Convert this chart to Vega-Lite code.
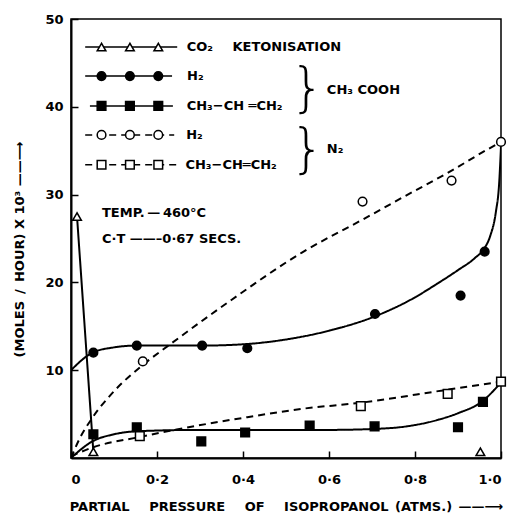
{
  "$schema": "https://vega.github.io/schema/vega-lite/v6.json",
  "width": 430,
  "height": 439,
  "autosize": {"type": "none"},
  "padding": {"left": 71, "top": 19, "right": 9, "bottom": 68},
  "background": "white",
  "config": {
    "font": "DejaVu Sans",
    "view": {"stroke": "black", "strokeWidth": 1.5},
    "axis": {"grid": false, "domainColor": "black", "domainWidth": 2, "tickColor": "black", "tickWidth": 1.5, "labelColor": "black", "titleColor": "black", "labelFont": "DejaVu Sans", "titleFont": "DejaVu Sans", "labelFontSize": 13, "labelFontWeight": "bold", "titleFontSize": 13, "titleFontWeight": "bold"},
    "text": {"font": "DejaVu Sans", "color": "black"}
  },
  "datasets": {
    "curves": [
      {"series": "co2", "x": 0.014, "y": 27.5}, {"series": "co2", "x": 0.052, "y": 0.7},
      {"series": "h2a", "x": 0, "y": 10}, {"series": "h2a", "x": 0.05, "y": 12}, {"series": "h2a", "x": 0.1, "y": 12.6}, {"series": "h2a", "x": 0.15, "y": 12.8}, {"series": "h2a", "x": 0.3, "y": 12.8}, {"series": "h2a", "x": 0.4, "y": 12.95}, {"series": "h2a", "x": 0.5, "y": 13.5}, {"series": "h2a", "x": 0.6, "y": 14.5}, {"series": "h2a", "x": 0.7, "y": 16}, {"series": "h2a", "x": 0.8, "y": 18.3}, {"series": "h2a", "x": 0.85, "y": 19.8}, {"series": "h2a", "x": 0.9, "y": 21.4}, {"series": "h2a", "x": 0.94, "y": 22.8}, {"series": "h2a", "x": 0.96, "y": 23.8}, {"series": "h2a", "x": 0.975, "y": 25.3}, {"series": "h2a", "x": 0.988, "y": 28}, {"series": "h2a", "x": 0.996, "y": 31.5}, {"series": "h2a", "x": 1.0, "y": 35.5},
      {"series": "pa", "x": 0, "y": 0}, {"series": "pa", "x": 0.05, "y": 1.9}, {"series": "pa", "x": 0.1, "y": 2.7}, {"series": "pa", "x": 0.155, "y": 3.05}, {"series": "pa", "x": 0.3, "y": 3.2}, {"series": "pa", "x": 0.5, "y": 3.2}, {"series": "pa", "x": 0.6, "y": 3.2}, {"series": "pa", "x": 0.7, "y": 3.3}, {"series": "pa", "x": 0.78, "y": 3.6}, {"series": "pa", "x": 0.85, "y": 4.3}, {"series": "pa", "x": 0.9, "y": 5.1}, {"series": "pa", "x": 0.955, "y": 6.4}, {"series": "pa", "x": 1.0, "y": 8.6},
      {"series": "h2n", "x": 0, "y": 0}, {"series": "h2n", "x": 0.02, "y": 2.2}, {"series": "h2n", "x": 0.05, "y": 4.6}, {"series": "h2n", "x": 0.1, "y": 7.6}, {"series": "h2n", "x": 0.167, "y": 10.6}, {"series": "h2n", "x": 0.232, "y": 13}, {"series": "h2n", "x": 0.373, "y": 18}, {"series": "h2n", "x": 0.537, "y": 23.4}, {"series": "h2n", "x": 0.68, "y": 27.2}, {"series": "h2n", "x": 0.772, "y": 29.7}, {"series": "h2n", "x": 0.877, "y": 32.5}, {"series": "h2n", "x": 0.967, "y": 35.1}, {"series": "h2n", "x": 1.0, "y": 36},
      {"series": "pn", "x": 0, "y": 0.2}, {"series": "pn", "x": 0.05, "y": 1.2}, {"series": "pn", "x": 0.16, "y": 2.4}, {"series": "pn", "x": 0.23, "y": 3.1}, {"series": "pn", "x": 0.41, "y": 4.65}, {"series": "pn", "x": 0.537, "y": 5.6}, {"series": "pn", "x": 0.674, "y": 6.3}, {"series": "pn", "x": 0.865, "y": 7.7}, {"series": "pn", "x": 1.0, "y": 8.7}
    ],
    "points": [
      {"series": "co2", "x": 0.014, "y": 27.5}, {"series": "co2", "x": 0.052, "y": 0.7}, {"series": "co2", "x": 0.952, "y": 0.7},
      {"series": "h2a", "x": 0.052, "y": 12.0}, {"series": "h2a", "x": 0.153, "y": 12.8}, {"series": "h2a", "x": 0.305, "y": 12.8}, {"series": "h2a", "x": 0.41, "y": 12.5}, {"series": "h2a", "x": 0.707, "y": 16.4}, {"series": "h2a", "x": 0.906, "y": 18.5}, {"series": "h2a", "x": 0.962, "y": 23.5},
      {"series": "pa", "x": 0.052, "y": 2.7}, {"series": "pa", "x": 0.153, "y": 3.5}, {"series": "pa", "x": 0.303, "y": 1.9}, {"series": "pa", "x": 0.405, "y": 2.9}, {"series": "pa", "x": 0.555, "y": 3.7}, {"series": "pa", "x": 0.706, "y": 3.6}, {"series": "pa", "x": 0.9, "y": 3.5}, {"series": "pa", "x": 0.958, "y": 6.4},
      {"series": "h2n", "x": 0.167, "y": 11.0}, {"series": "h2n", "x": 0.678, "y": 29.2}, {"series": "h2n", "x": 0.885, "y": 31.6}, {"series": "h2n", "x": 1.0, "y": 36},
      {"series": "pn", "x": 0.16, "y": 2.5}, {"series": "pn", "x": 0.674, "y": 5.9}, {"series": "pn", "x": 0.876, "y": 7.3}, {"series": "pn", "x": 1.0, "y": 8.7}
    ],
    "legend_lines": [
      {"series": "co2", "x": 0.033, "y": 46.8}, {"series": "co2", "x": 0.247, "y": 46.8},
      {"series": "h2a", "x": 0.033, "y": 43.5}, {"series": "h2a", "x": 0.235, "y": 43.5},
      {"series": "pa", "x": 0.044, "y": 40.1}, {"series": "pa", "x": 0.237, "y": 40.1},
      {"series": "h2n", "x": 0.033, "y": 36.8}, {"series": "h2n", "x": 0.24, "y": 36.8},
      {"series": "pn", "x": 0.033, "y": 33.4}, {"series": "pn", "x": 0.25, "y": 33.4}
    ],
    "legend_points": [
      {"series": "co2", "x": 0.071, "y": 46.8}, {"series": "co2", "x": 0.137, "y": 46.8}, {"series": "co2", "x": 0.203, "y": 46.8},
      {"series": "h2a", "x": 0.071, "y": 43.5}, {"series": "h2a", "x": 0.137, "y": 43.5}, {"series": "h2a", "x": 0.203, "y": 43.5},
      {"series": "pa", "x": 0.071, "y": 40.1}, {"series": "pa", "x": 0.137, "y": 40.1}, {"series": "pa", "x": 0.203, "y": 40.1},
      {"series": "h2n", "x": 0.071, "y": 36.8}, {"series": "h2n", "x": 0.137, "y": 36.8}, {"series": "h2n", "x": 0.203, "y": 36.8},
      {"series": "pn", "x": 0.071, "y": 33.4}, {"series": "pn", "x": 0.137, "y": 33.4}, {"series": "pn", "x": 0.203, "y": 33.4}
    ],
    "labels": [
      {"x": 0.269, "y": 46.8, "text": "CO\u2082\u2003\u2002KETONISATION"},
      {"x": 0.27, "y": 43.5, "text": "H\u2082"},
      {"x": 0.269, "y": 40.1, "text": "CH\u2083\u2212CH \u2550CH\u2082"},
      {"x": 0.268, "y": 36.8, "text": "H\u2082"},
      {"x": 0.266, "y": 33.4, "text": "CH\u2083\u2212CH\u2550CH\u2082"},
      {"x": 0.595, "y": 41.9, "text": "CH\u2083 COOH"},
      {"x": 0.595, "y": 35.2, "text": "N\u2082"},
      {"x": 0.072, "y": 27.9, "text": "TEMP.\u2009\u2014\u2009460\u00b0C"},
      {"x": 0.072, "y": 24.9, "text": "C\u00b7T \u2014\u2014\u20130\u00b767 SECS."}
    ],
    "braces": [
      {"x": 0.55, "y": 41.9, "text": "}"},
      {"x": 0.55, "y": 35.0, "text": "}"}
    ]
  },
  "layer": [
    {
      "data": {"name": "curves"},
      "mark": {"type": "line", "interpolate": "monotone", "color": "black", "strokeWidth": 2, "clip": true},
      "encoding": {
        "x": {"field": "x", "type": "quantitative", "scale": {"domain": [0, 1], "nice": false},
          "axis": {"values": [0, 0.2, 0.4, 0.6, 0.8, 1.0], "labelExpr": "datum.value == 0 ? '0' : replace(format(datum.value, '.1f'), '.', '\u00b7')", "tickSize": -7, "labelPadding": 22, "title": "PARTIAL\u2003\u2002PRESSURE\u2003\u2002OF\u2003\u2002ISOPROPANOL\u2002(ATMS.)\u2002\u2014\u2014\u27f6", "titleY": 48, "titleBaseline": "middle"}},
        "y": {"field": "y", "type": "quantitative", "scale": {"domain": [0, 50], "nice": false},
          "axis": {"values": [10, 20, 30, 40, 50], "tickSize": -7, "labelPadding": 15, "title": "(MOLES \u2009/\u2009 HOUR) X 10\u00b3 \u2014\u2014\u27f6", "titleX": -52, "titleY": 230, "titleBaseline": "middle"}},
        "detail": {"field": "series"},
        "strokeDash": {"field": "series", "type": "nominal", "scale": {"domain": ["co2", "h2a", "pa", "h2n", "pn"], "range": [[1, 0], [1, 0], [1, 0], [7, 5], [7, 5]]}, "legend": null}
      }
    },
    {
      "data": {"name": "legend_lines"},
      "mark": {"type": "line", "color": "black", "strokeWidth": 1.5},
      "encoding": {
        "x": {"field": "x", "type": "quantitative"},
        "y": {"field": "y", "type": "quantitative"},
        "detail": {"field": "series"},
        "strokeDash": {"field": "series", "type": "nominal", "legend": null}
      }
    },
    {
      "data": {"name": "points"},
      "mark": {"type": "point", "stroke": "black", "strokeWidth": 1.5, "opacity": 1},
      "encoding": {
        "x": {"field": "x", "type": "quantitative"},
        "y": {"field": "y", "type": "quantitative"},
        "shape": {"field": "series", "type": "nominal", "scale": {"domain": ["co2", "h2a", "pa", "h2n", "pn"], "range": ["triangle-up", "circle", "square", "circle", "square"]}, "legend": null},
        "fill": {"field": "series", "type": "nominal", "scale": {"domain": ["co2", "h2a", "pa", "h2n", "pn"], "range": ["white", "black", "black", "white", "white"]}, "legend": null},
        "size": {"field": "series", "type": "nominal", "scale": {"domain": ["co2", "h2a", "pa", "h2n", "pn"], "range": [75, 75, 70, 50, 55]}, "legend": null}
      }
    },
    {
      "data": {"name": "legend_points"},
      "mark": {"type": "point", "stroke": "black", "strokeWidth": 1.5, "opacity": 1},
      "encoding": {
        "x": {"field": "x", "type": "quantitative"},
        "y": {"field": "y", "type": "quantitative"},
        "shape": {"field": "series", "type": "nominal", "legend": null},
        "fill": {"field": "series", "type": "nominal", "legend": null},
        "size": {"field": "series", "type": "nominal", "legend": null}
      }
    },
    {
      "data": {"name": "labels"},
      "mark": {"type": "text", "align": "left", "baseline": "middle", "fontSize": 13, "fontWeight": "bold"},
      "encoding": {
        "x": {"field": "x", "type": "quantitative"},
        "y": {"field": "y", "type": "quantitative"},
        "text": {"field": "text"}
      }
    },
    {
      "data": {"name": "braces"},
      "mark": {"type": "text", "align": "center", "baseline": "middle", "fontSize": 54, "font": "DejaVu Sans", "fontWeight": 200},
      "encoding": {
        "x": {"field": "x", "type": "quantitative"},
        "y": {"field": "y", "type": "quantitative"},
        "text": {"field": "text"}
      }
    }
  ]
}
